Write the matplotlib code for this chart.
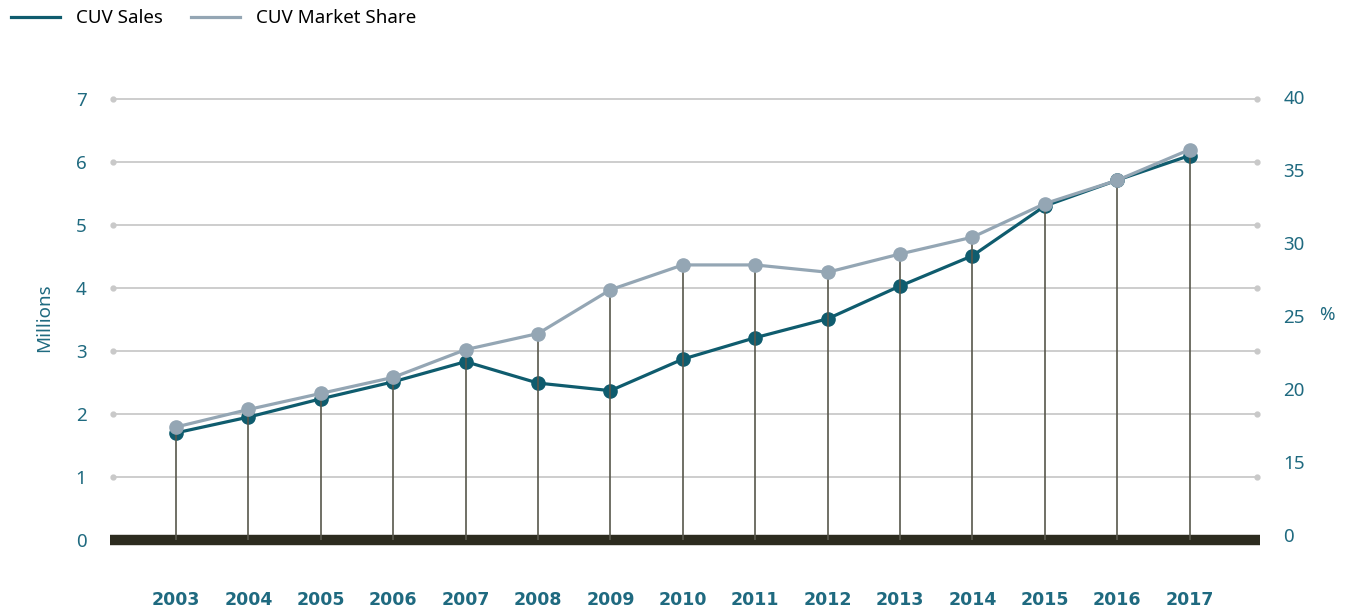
import matplotlib
matplotlib.use("Agg")
import matplotlib.pyplot as plt
from matplotlib.lines import Line2D

# CUV sales (millions) and market share (%)
years = list(range(2003, 2018))
sales = [1.70, 1.95, 2.24, 2.51, 2.83, 2.49, 2.37, 2.87, 3.21, 3.51, 4.03, 4.51, 5.30, 5.71, 6.10]
share = [17.4, 18.6, 19.7, 20.8, 22.7, 23.8, 26.8, 28.5, 28.5, 28.0, 29.25, 30.4, 32.7, 34.3, 36.4]

left_ticks = [0, 1, 2, 3, 4, 5, 6, 7]
right_ticks = [10, 15, 20, 25, 30, 35, 40]
right_labels = ["0", "15", "20", "25", "30", "35", "40"]

teal = "#0f5c6e"
grey_blue = "#94a6b4"
label_col = "#1f6a80"
grid_col = "#c9c9c9"
base_col = "#2c2b1f"

plt.rcParams["font.family"] = ["Noto Sans", "DejaVu Sans"]

fig = plt.figure(figsize=(13.5, 6.11), dpi=100)
ax = fig.add_axes([113 / 1350, 66 / 611, 1144 / 1350, 455 / 611])
ax2 = ax.twinx()

x0, x1 = 2002.13, 2017.93
l_lo, l_hi = -0.079, 7.14
r_lo, r_hi = 9.32, 40.48
ax.set_xlim(x0, x1)
ax.set_ylim(l_lo, l_hi)
ax2.set_ylim(r_lo, r_hi)

# grid lines with dot ends
for v in left_ticks[1:]:
    ax.plot([x0, x1], [v, v], color=grid_col, lw=1.3, marker="o", markersize=3.5,
            clip_on=False, zorder=1)

# thick base bar
ax.plot([x0 - 0.04, x1 + 0.04], [0, 0], color=base_col, lw=7.5, solid_capstyle="butt",
        clip_on=False, zorder=3)

# stems from base up to top point (share line sits above the sales line)
r0 = r_lo + (0 - l_lo) / (l_hi - l_lo) * (r_hi - r_lo)
ax2.vlines(years, r0, share, color="#58574c", lw=1.2, zorder=1)

ax.plot(years, sales, color=teal, lw=2.3, marker="o", markersize=9.5, zorder=4)
ax2.plot(years, share, color=grey_blue, lw=2.3, marker="o", markersize=9.5, zorder=4)

for a in (ax, ax2):
    for s in a.spines.values():
        s.set_visible(False)
    a.tick_params(length=0)

ax.set_yticks(left_ticks)
ax.set_yticklabels([str(t) for t in left_ticks], fontsize=13.5, color=label_col)
ax.tick_params(axis="y", pad=19)
ax2.set_yticks(right_ticks)
ax2.set_yticklabels(right_labels, fontsize=13.5, color=label_col)
ax2.tick_params(axis="y", pad=19)

ax.set_xticks(years)
ax.set_xticklabels([str(y) for y in years], fontsize=12.5, fontweight="bold",
                   color=label_col, family=["DejaVu Sans"])
ax.tick_params(axis="x", pad=33)

ax.set_ylabel("Millions", fontsize=13.5, color=label_col, labelpad=16)
fig.text(1327 / 1350, 1 - 315 / 611, "%", fontsize=13.5, color=label_col,
         ha="center", va="center")

handles = [Line2D([], [], color=teal, lw=2.3), Line2D([], [], color=grey_blue, lw=2.3)]
fig.legend(handles, ["CUV Sales", "CUV Market Share"], loc="upper left",
           bbox_to_anchor=(0.0015, 1.0), ncol=2, frameon=False, fontsize=13.5,
           handlelength=2.6, handletextpad=0.85, columnspacing=1.5,
           borderpad=0.3, borderaxespad=0.2)

fig.savefig("out.png", dpi=100)
